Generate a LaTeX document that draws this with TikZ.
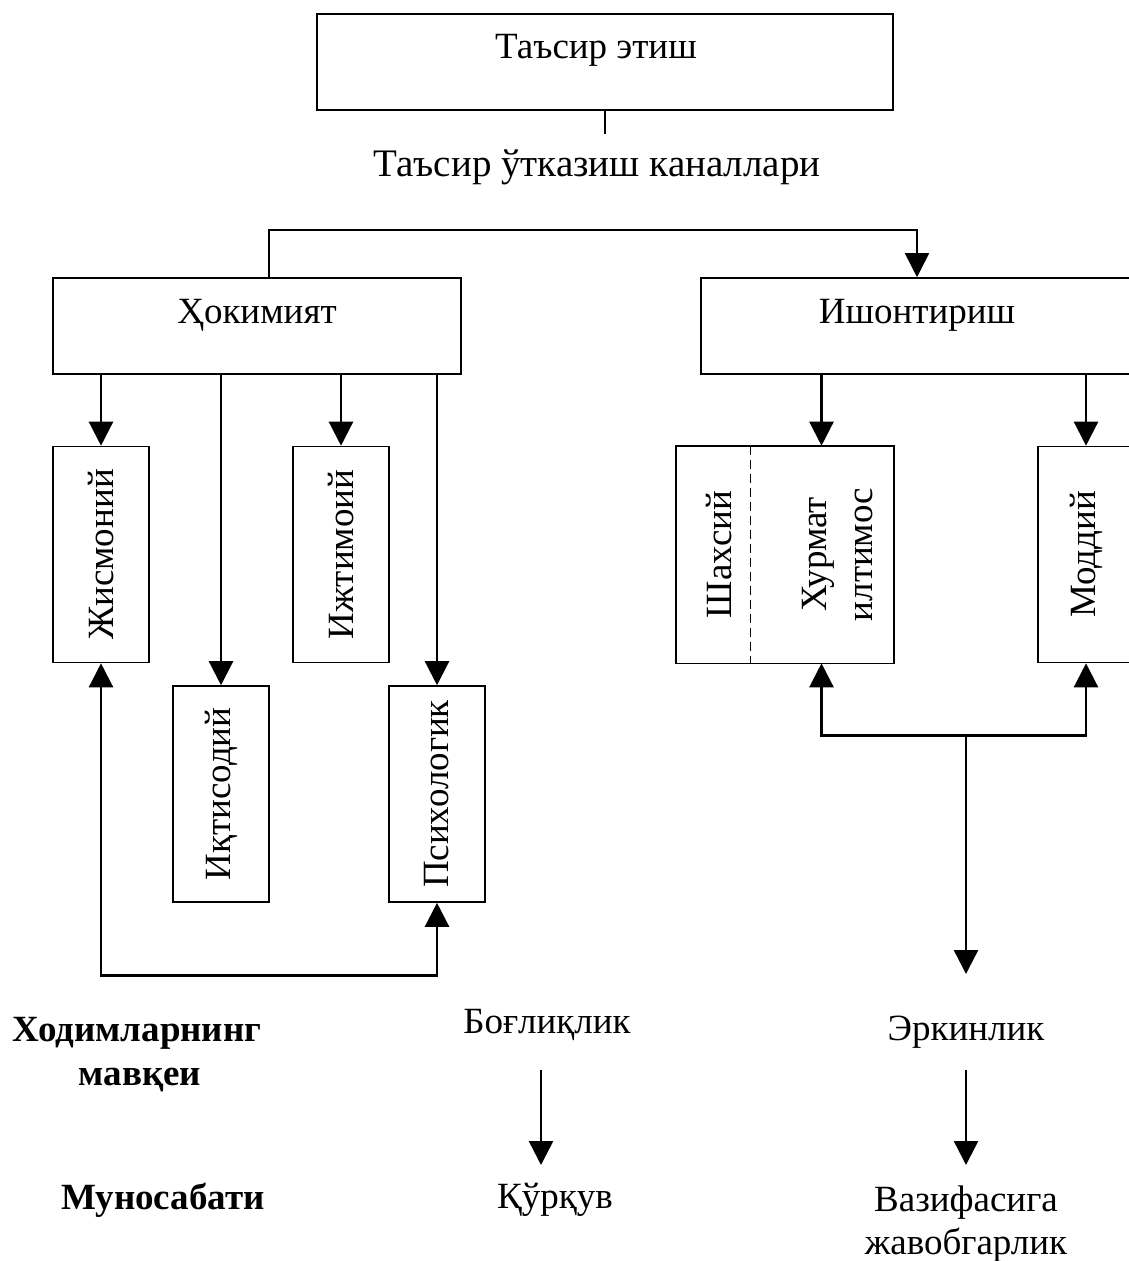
\documentclass[tikz,border=0pt]{standalone}
\usepackage{fontspec}
\setmainfont{Liberation Serif}
\usetikzlibrary{arrows.meta,calc}
\begin{document}
\begin{tikzpicture}[x=1pt,y=-1pt,
  box/.style={draw,line width=1.6pt,inner sep=0pt},
  hb/.style={box,minimum height=96pt},
  vb/.style={box,minimum width=96pt,minimum height=216pt},
  tip/.style={-{Triangle[length=24pt,width=24pt]}},
  arr/.style={line width=2.4pt,tip},
  arr2/.style={line width=2.4pt,{Triangle[length=24pt,width=24pt]}-{Triangle[length=24pt,width=24pt]}},
  lnk/.style={line width=1.8pt},
  lbl/.style={font=\fontsize{37}{46}\selectfont, inner sep=0pt},
  vlbl/.style={lbl, rotate=90, align=center},
  bl/.style={font=\fontsize{37}{44}\selectfont\bfseries, inner sep=0pt}]
\useasboundingbox (0,0) rectangle (1129,1261);
% top
\node[hb,minimum width=576pt] (top) at (605,62) {};
\node[lbl] (toptxt) at (596,50) {Таъсир этиш};
\draw[lnk] (top.south) -- ++(0,23);
\node[lbl,font=\fontsize{39}{46}\selectfont] (kan) at (597,167) {Таъсир ўтказиш каналлари};
% second level
\node[hb,minimum width=408pt] (hok) at (257,326) {};
\node[lbl] (hoktxt) at (257,315) {Ҳокимият};
\node[hb,minimum width=432pt] (ish) at (917,326) {};
\node[lbl] (ishtxt) at (917,315) {Ишонтириш};
\draw[lnk,tip] ([xshift=12pt]hok.north) -- ++(0,-47) -| (ish.north);
% left boxes
\node[vb] (jis) at (101,554.5) {};
\node[vlbl] at (jis) {Жисмоний};
\node[vb] (ijt) at (341,554.5) {};
\node[vlbl] at (ijt) {Ижтимоий};
\node[vb] (ikt) at (221,794) {};
\node[vlbl] at (ikt) {Иқтисодий};
\node[vb] (psi) at (437,794) {};
\node[vlbl] at (psi) {Психологик};
\draw[arr] (jis.north |- hok.south) -- (jis.north);
\draw[arr] (ikt.north |- hok.south) -- (ikt.north);
\draw[arr] (ijt.north |- hok.south) -- (ijt.north);
\draw[arr] (psi.north |- hok.south) -- (psi.north);
\draw[arr2] (jis.south) -- ++(0,312) -| (psi.south);
% right boxes
\node[box,minimum width=73pt,minimum height=216pt,draw=none] (shax) at (713.5,554.5) {};
\node[box,minimum width=143pt,minimum height=216pt,draw=none] (hur) at (821.5,554.5) {};
\draw[line width=1.6pt] (shax.north west) rectangle (hur.south east);
\draw[line width=1.3pt,dash pattern=on 9pt off 5pt] (shax.north east) -- (shax.south east);
\node[vlbl] at ([xshift=6pt]shax.center) {Шахсий};
\node[vlbl] at ([xshift=16pt]hur.center) {Хурмат\\илтимос};
\node[vb] (mod) at (1086,554.5) {};
\node[vlbl] at (mod) {Моддий};
\draw[arr] (hur.north |- ish.south) -- (hur.north);
\draw[arr] (mod.north |- ish.south) -- (mod.north);
\draw[arr2] (hur.south) -- ++(0,72) -| (mod.south);
\coordinate (sj) at (966,734);
\coordinate (se) at (966,974);
\draw[arr] (sj) -- (se);
% bottom rows
\node[bl] (hod) at (137,1033) {Ходимларнинг};
\node[bl] (mav) at (140,1080) {мавқеи};
\node[bl] (mun) at (163,1200) {Муносабати};
\node[lbl] (bog) at (547,1025) {Боғлиқлик};
\node[lbl] (erk) at (966,1032) {Эркинлик};
\node[lbl] (qur) at (555,1200) {Қўрқув};
\node[lbl] (vaz) at (966,1203) {Вазифасига};
\node[lbl] (jav) at (966,1245) {жавобгарлик};
\coordinate (b1) at (541,1070);
\coordinate (b2) at (541,1165);
\coordinate (e1) at (966,1070);
\coordinate (e2) at (966,1165);
\draw[arr] (b1) -- (b2);
\draw[arr] (e1) -- (e2);
\end{tikzpicture}
\end{document}
